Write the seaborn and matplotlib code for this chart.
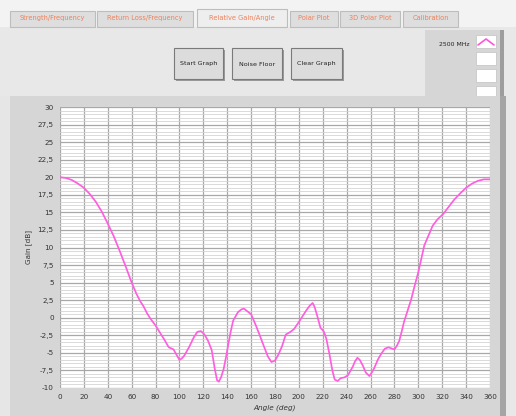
import numpy as np
import pandas as pd
import matplotlib.pyplot as plt
import seaborn as sns
from matplotlib.patches import Rectangle
from matplotlib.lines import Line2D
from matplotlib.ticker import MultipleLocator

# data
angle = [0, 5, 10, 15, 20, 25, 30, 35, 40, 45, 50, 55, 60, 64, 67, 70, 73, 76, 80, 84,
         88, 91, 95, 98, 100, 102, 104, 108, 112, 115, 118, 121, 124, 127, 129.5, 131.5,
         133, 135, 137, 139, 141, 143, 145, 149, 152, 154, 157, 160, 164, 167, 171, 174,
         177, 180, 183, 186, 189, 193, 196, 200, 203, 206, 209, 211.5, 213, 215, 218, 221,
         223, 225.5, 228, 230, 232.5, 235, 238, 241, 245, 247, 249, 251, 253.5, 256, 259,
         261, 263, 266, 269, 272, 275, 278, 280, 282, 284, 286, 288, 291, 294, 297, 300,
         305, 312, 316, 321, 325, 330, 335, 340, 345, 350, 355, 360]
gain = [20.0, 19.9, 19.6, 19.1, 18.5, 17.6, 16.5, 15.1, 13.4, 11.6, 9.5, 7.3, 5.0, 3.4,
        2.4, 1.6, 0.6, -0.2, -1.1, -2.2, -3.3, -4.2, -4.5, -5.4, -6.0, -5.8, -5.4, -4.2,
        -2.8, -2.0, -1.9, -2.4, -3.3, -4.6, -7.2, -8.9, -9.1, -8.4, -7.3, -5.6, -3.7, -1.9,
        -0.4, 0.8, 1.2, 1.3, 0.9, 0.5, -1.1, -2.4, -4.2, -5.5, -6.3, -6.1, -5.2, -4.0, -2.4,
        -2.0, -1.6, -0.6, 0.2, 1.0, 1.7, 2.1, 1.6, 0.5, -1.4, -2.0, -3.0, -5.1, -7.5, -8.8,
        -9.0, -8.6, -8.5, -8.2, -7.0, -6.2, -5.7, -6.0, -6.8, -7.8, -8.3, -7.8, -7.2, -6.0,
        -5.1, -4.4, -4.2, -4.4, -4.5, -4.0, -3.3, -2.0, -0.6, 1.0, 2.6, 4.6, 6.5, 10.3, 13.1,
        14.0, 14.8, 15.7, 16.8, 17.7, 18.5, 19.1, 19.5, 19.7, 19.7]

x_ticks = list(range(0, 361, 20))
y_ticks = [-10, -7.5, -5, -2.5, 0, 2.5, 5, 7.5, 10, 12.5, 15, 17.5, 20, 22.5, 25, 27.5, 30]
y_tick_labels = [f"{v:g}".replace(".", ",") for v in y_ticks]

tabs = ["Strength/Frequency", "Return Loss/Frequency", "Relative Gain/Angle",
        "Polar Plot", "3D Polar Plot", "Calibration"]
buttons = ["Start Graph", "Noise Floor", "Clear Graph"]
series_name = "2500 MHz"

df = pd.DataFrame({"Angle": angle, "Gain": gain})

sns.set_theme(style="white")
plt.rcParams["font.family"] = ["DejaVu Sans"]

W, H = 516, 416
fig = plt.figure(figsize=(W / 100, H / 100), dpi=100)
fig.patch.set_facecolor("#f3f3f3")


def px_rect(x, y, w, h, **kw):
    # rectangle given in screen pixels (top-left origin), kept behind the axes
    fig.patches.append(Rectangle((x / W, 1 - (y + h) / H), w / W, h / H,
                                 transform=fig.transFigure, zorder=-5, **kw))


def px_text(x, y, s, **kw):
    fig.text(x / W, 1 - y / H, s, **kw)


# main panel below tabs
px_rect(0, 27, W, H - 27, facecolor="#e8e8e8", edgecolor="none")
# tabs
tab_x = [10, 97, 197, 290, 340, 403]
tab_w = [85, 96, 90, 48, 60, 55]
for t, x, w in zip(tabs, tab_x, tab_w):
    selected = t == "Relative Gain/Angle"
    px_rect(x, 9 if selected else 11, w, 18 if selected else 16,
            facecolor="#eeeeee" if selected else "#dedede",
            edgecolor="#bdbdbd", linewidth=0.8)
    px_text(x + w / 2, 18, t, ha="center", va="center", fontsize=4.8,
            color="#f0805a")

# buttons
btn_x = [174, 232, 291]
btn_w = [49, 50, 51]
for b, x, w in zip(buttons, btn_x, btn_w):
    px_rect(x + 1.5, 49.5, w, 31, facecolor="#9a9a9a", edgecolor="none")
    px_rect(x, 48, w, 31, facecolor="#dcdcdc", edgecolor="#7a7a7a", linewidth=0.8)
    px_text(x + w / 2, 64, b, ha="center", va="center", fontsize=4.6, color="#222222")

# legend panel
px_rect(425, 30, 77, 70, facecolor="#d6d6d6", edgecolor="none")
px_rect(500, 30, 4, 70, facecolor="#9d9d9d", edgecolor="none")
px_text(470, 45, series_name, ha="right", va="center", fontsize=4.4, color="#222222")
for i in range(4):
    px_rect(476, 35 + i * 17, 20, 13, facecolor="white", edgecolor="#c8c8c8", linewidth=0.6)
fig.lines.append(Line2D([478 / W, 486 / W, 494 / W],
                        [1 - 45 / H, 1 - 39 / H, 1 - 45 / H],
                        transform=fig.transFigure, color="#ff55dd", linewidth=1.2))

# graph frame
px_rect(10, 96, 495, H - 96, facecolor="#d6d6d6", edgecolor="none")
px_rect(500, 96, 6, H - 96, facecolor="#a5a5a5", edgecolor="none")
px_rect(0, 96, 10, H - 96, facecolor="#e6e6e6", edgecolor="none")

ax = fig.add_axes([60 / W, 1 - 388 / H, 430 / W, 281 / H])
ax.set_facecolor("white")

sns.lineplot(data=df, x="Angle", y="Gain", ax=ax, color="#ff5ee0", linewidth=1.25,
             legend=False, zorder=5)

ax.set_xlim(0, 360)
ax.set_ylim(-10, 30)
ax.set_xticks(x_ticks)
ax.set_yticks(y_ticks)
ax.set_yticklabels(y_tick_labels)
ax.yaxis.set_minor_locator(MultipleLocator(0.5))
ax.grid(which="major", axis="both", color="#a8a8a8", linewidth=0.9)
ax.grid(which="minor", axis="y", color="#d4d4d4", linewidth=0.6)
ax.set_axisbelow(True)
ax.tick_params(axis="both", which="major", labelsize=5.2, colors="#333333",
               length=3, width=0.6, direction="out", pad=1.5)
ax.tick_params(which="minor", length=0)
for s in ax.spines.values():
    s.set_visible(False)
ax.set_xlabel("Angle (deg)", fontsize=5.2, style="italic", color="#333333", labelpad=3)
ax.set_ylabel("Gain [dB]", fontsize=5.2, color="#333333", labelpad=4)

fig.savefig("out.png", dpi=100)
